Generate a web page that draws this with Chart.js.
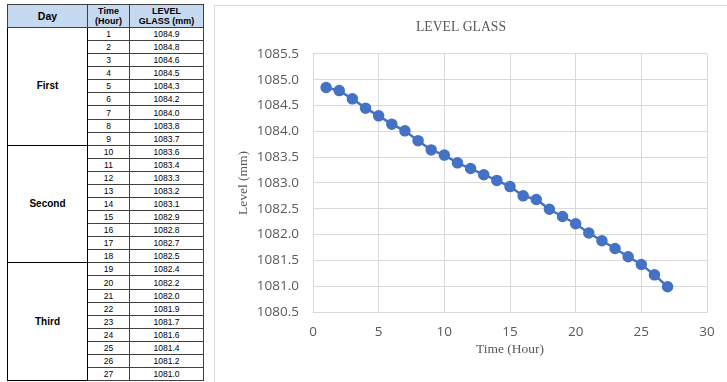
<!DOCTYPE html>
<html>
<head>
<meta charset="utf-8">
<script src="https://cdn.jsdelivr.net/npm/chart.js@4"></script>
<style>
  html, body { margin: 0; padding: 0; background: #fff; width: 727px; height: 382px; overflow: hidden; }
  #sheet { position: absolute; left: 7px; top: 4px; border-collapse: collapse; font-family: "Liberation Sans", Arial, sans-serif; table-layout: fixed; }
  #sheet td, #sheet th { border: 1px solid #404040; padding: 0; text-align: center; color: #000; }
  #sheet th { background: #c5d9f1; font-size: 9px; font-weight: bold; line-height: 10px; height: 22px; }
  #sheet th.day { font-size: 10.5px; }
  #sheet td { font-size: 8.5px; height: 12.08px; line-height: 12px; }
  #sheet td.day { font-size: 10px; font-weight: bold; border-color: #000; }
  #box { position: absolute; left: 214px; top: 5px; width: 518px; height: 380px; border: 1px solid #d9d9d9; }
</style>
</head>
<body>
<table id="sheet">
  <colgroup><col style="width:80px"><col style="width:42px"><col style="width:74px"></colgroup>
  <thead><tr><th class="day">Day</th><th>Time<br>(Hour)</th><th>LEVEL<br>GLASS (mm)</th></tr></thead>
  <tbody id="rows"></tbody>
</table>
<div id="box"><canvas id="levelChart"></canvas></div>
<script>
const days = ["First", "Second", "Third"];
const hours = [1, 2, 3, 4, 5, 6, 7, 8, 9, 10, 11, 12, 13, 14, 15, 16, 17, 18, 19, 20, 21, 22, 23, 24, 25, 26, 27];
// values as printed in the table
const tableLevel = [1084.9, 1084.8, 1084.6, 1084.5, 1084.3, 1084.2, 1084.0, 1083.8, 1083.7,
  1083.6, 1083.4, 1083.3, 1083.2, 1083.1, 1082.9, 1082.8, 1082.7, 1082.5,
  1082.4, 1082.2, 1082.0, 1081.9, 1081.7, 1081.6, 1081.4, 1081.2, 1081.0];
// values as plotted
const chartLevel = [1084.85, 1084.79, 1084.63, 1084.45, 1084.30, 1084.14, 1084.01, 1083.82, 1083.64,
  1083.54, 1083.39, 1083.28, 1083.16, 1083.05, 1082.93, 1082.75, 1082.68, 1082.49,
  1082.35, 1082.21, 1082.03, 1081.88, 1081.73, 1081.57, 1081.42, 1081.22, 1080.99];
const yTicks = [1080.5, 1085.5, 0.5]; // min, max, step
const xTicks = [0, 30, 5];

// table
const tbody = document.getElementById('rows');
hours.forEach((h, i) => {
  const tr = document.createElement('tr');
  if (i % 9 === 0) {
    const d = document.createElement('td');
    d.className = 'day';
    d.rowSpan = 9;
    d.textContent = days[i / 9];
    tr.appendChild(d);
  }
  tr.innerHTML += `<td>${h}</td><td>${tableLevel[i].toFixed(1)}</td>`;
  tbody.appendChild(tr);
});

const gray = '#595959';
const gridColor = '#d9d9d9';
const ctx = document.getElementById('levelChart').getContext('2d');

new Chart(ctx, {
  type: 'scatter',
  data: {
    datasets: [{
      label: 'LEVEL GLASS',
      data: hours.map((h, i) => ({ x: h, y: chartLevel[i] })),
      showLine: true,
      borderColor: '#4472c4',
      backgroundColor: '#4472c4',
      borderWidth: 2.5,
      pointRadius: 4.5,
      pointHoverRadius: 4.5
    }]
  },
  options: {
    responsive: true,
    maintainAspectRatio: false,
    animation: false,
    layout: { padding: { left: 0, right: 26, top: 0, bottom: 0 } },
    plugins: {
      legend: { display: false },
      tooltip: { enabled: false },
      title: {
        display: true,
        text: 'LEVEL GLASS',
        color: gray,
        font: { family: '"Liberation Serif", "Times New Roman", serif', size: 13.7, weight: 'normal' },
        padding: { top: 13, bottom: 18.5 }
      }
    },
    scales: {
      x: {
        type: 'linear',
        min: xTicks[0], max: xTicks[1],
        ticks: { stepSize: xTicks[2], color: gray, padding: 12, font: { family: '"Open Sans", sans-serif', size: 13.5 } },
        grid: { color: gridColor, drawTicks: false },
        border: { color: gridColor },
        title: {
          display: true, text: 'Time (Hour)', color: gray,
          font: { family: '"Liberation Serif", "Times New Roman", serif', size: 13.5 },
          padding: { top: 0, bottom: 28 }
        },
        afterFit: scale => { scale.height = 74; }
      },
      y: {
        min: yTicks[0], max: yTicks[1],
        ticks: {
          stepSize: yTicks[2], color: gray, padding: 14,
          font: { family: '"Open Sans", sans-serif', size: 13.5 },
          callback: v => v.toFixed(1)
        },
        grid: { color: gridColor, drawTicks: false },
        border: { color: gridColor },
        title: {
          display: true, text: 'Level (mm)', color: gray,
          font: { family: '"Liberation Serif", "Times New Roman", serif', size: 13.5 },
          padding: { top: 20, bottom: 0 }
        },
        afterFit: scale => { scale.width = 98; }
      }
    }
  }
});
</script>
</body>
</html>
